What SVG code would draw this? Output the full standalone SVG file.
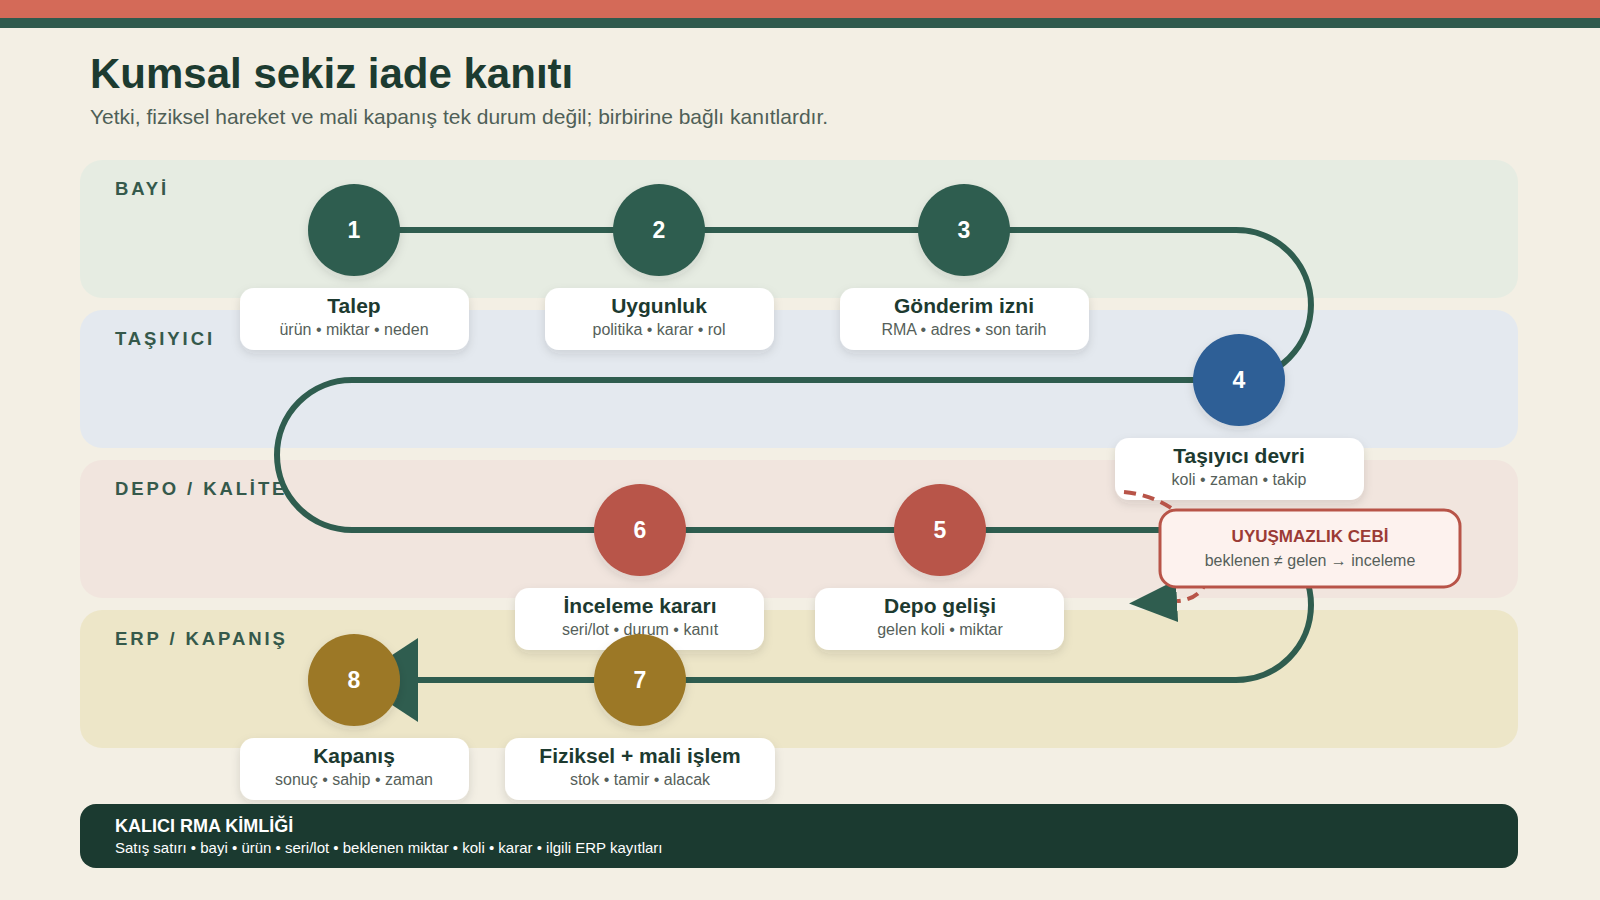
<svg xmlns="http://www.w3.org/2000/svg" width="1600" height="900" viewBox="0 0 1600 900">
<defs>
  <filter id="sh" x="-30%" y="-30%" width="160%" height="170%">
    <feDropShadow dx="0" dy="4" stdDeviation="5" flood-color="#3a3a2a" flood-opacity="0.13"/>
  </filter>
  <marker id="arrowBig" markerUnits="userSpaceOnUse" markerWidth="64" markerHeight="84" viewBox="0 0 10 10" preserveAspectRatio="none" refX="10" refY="5" orient="auto">
    <path d="M0,0 L10,5 L0,10 z" fill="#2f5d4f"/>
  </marker>
  <marker id="arrowSmall" markerUnits="userSpaceOnUse" markerWidth="48" markerHeight="42" viewBox="0 0 10 10" preserveAspectRatio="none" refX="0" refY="5" orient="auto">
    <path d="M0,0 L10,5 L0,10 z" fill="#2f5d4f"/>
  </marker>
  <style>
    .lane-label { font-family: "Liberation Sans", Arial, sans-serif; font-size: 18.5px; font-weight: bold; letter-spacing: 2.9px; fill: #35594b; }
    .num { font-family: "Liberation Sans", Arial, sans-serif; font-size: 23px; font-weight: bold; fill: #ffffff; text-anchor: middle; }
    .card { fill: #ffffff; filter: url(#sh); }
    .ct { font-family: "Liberation Sans", Arial, sans-serif; font-size: 21px; font-weight: bold; fill: #1d3a30; text-anchor: middle; }
    .cs { font-family: "Liberation Sans", Arial, sans-serif; font-size: 16px; fill: #565f5a; text-anchor: middle; }
    .flow { fill: none; stroke: #2f5d4f; stroke-width: 6; }
    .c-green { fill: #2f5d4f; filter: url(#sh); }
    .c-blue { fill: #2d5f96; filter: url(#sh); }
    .c-red { fill: #b85448; filter: url(#sh); }
    .c-ochre { fill: #9c7828; filter: url(#sh); }
  </style>
</defs>
<rect x="0" y="0" width="1600" height="900" fill="#f3efe4"/>
<rect x="0" y="0" width="1600" height="18" fill="#d46a58"/>
<rect x="0" y="18" width="1600" height="10" fill="#2f5a4d"/>

<text x="90" y="88" font-family="Liberation Sans, Arial, sans-serif" font-size="42" font-weight="bold" fill="#1c3b30">Kumsal sekiz iade kanıtı</text>
<text x="90" y="124" font-family="Liberation Sans, Arial, sans-serif" font-size="21" fill="#4f5f57">Yetki, fiziksel hareket ve mali kapanış tek durum değil; birbirine bağlı kanıtlardır.</text>

<g id="lanes">
  <rect x="80" y="160" width="1438" height="138" rx="22" fill="#e6ece2"/>
  <rect x="80" y="310" width="1438" height="138" rx="22" fill="#e4e9ef"/>
  <rect x="80" y="460" width="1438" height="138" rx="22" fill="#f1e5de"/>
  <rect x="80" y="610" width="1438" height="138" rx="22" fill="#ede6c8"/>
  <text class="lane-label" x="115" y="195">BAYİ</text>
  <text class="lane-label" x="115" y="345">TAŞIYICI</text>
  <text class="lane-label" x="115" y="495">DEPO / KALİTE</text>
  <text class="lane-label" x="115" y="645">ERP / KAPANIŞ</text>
</g>

<g id="connectors">
  <path class="flow" d="M354 230 H1236 A75 75 0 0 1 1236 380 H352 A75 75 0 0 0 352 530 H1236 A75 75 0 0 1 1236 680 H354" marker-end="url(#arrowBig)"/>
</g>

<g id="node1">
  <circle class="c-green" cx="354" cy="230" r="46"/>
  <text class="num" x="354" y="238">1</text>
  <rect class="card" x="240" y="288" width="229" height="62" rx="14"/>
  <text class="ct" x="354" y="313">Talep</text>
  <text class="cs" x="354" y="335">ürün • miktar • neden</text>
</g>
<g id="node2">
  <circle class="c-green" cx="659" cy="230" r="46"/>
  <text class="num" x="659" y="238">2</text>
  <rect class="card" x="545" y="288" width="229" height="62" rx="14"/>
  <text class="ct" x="659" y="313">Uygunluk</text>
  <text class="cs" x="659" y="335">politika • karar • rol</text>
</g>
<g id="node3">
  <circle class="c-green" cx="964" cy="230" r="46"/>
  <text class="num" x="964" y="238">3</text>
  <rect class="card" x="840" y="288" width="249" height="62" rx="14"/>
  <text class="ct" x="964" y="313">Gönderim izni</text>
  <text class="cs" x="964" y="335">RMA • adres • son tarih</text>
</g>
<g id="node4">
  <circle class="c-blue" cx="1239" cy="380" r="46"/>
  <text class="num" x="1239" y="388">4</text>
  <rect class="card" x="1115" y="438" width="249" height="62" rx="14"/>
  <text class="ct" x="1239" y="463">Taşıyıcı devri</text>
  <text class="cs" x="1239" y="485">koli • zaman • takip</text>
</g>
<g id="node5">
  <circle class="c-red" cx="940" cy="530" r="46"/>
  <text class="num" x="940" y="538">5</text>
  <rect class="card" x="815" y="588" width="249" height="62" rx="14"/>
  <text class="ct" x="940" y="613">Depo gelişi</text>
  <text class="cs" x="940" y="635">gelen koli • miktar</text>
</g>
<g id="node6">
  <circle class="c-red" cx="640" cy="530" r="46"/>
  <text class="num" x="640" y="538">6</text>
  <rect class="card" x="515" y="588" width="249" height="62" rx="14"/>
  <text class="ct" x="640" y="613">İnceleme kararı</text>
  <text class="cs" x="640" y="635">seri/lot • durum • kanıt</text>
</g>
<g id="node7">
  <circle class="c-ochre" cx="640" cy="680" r="46"/>
  <text class="num" x="640" y="688">7</text>
  <rect class="card" x="505" y="738" width="270" height="62" rx="14"/>
  <text class="ct" x="640" y="763">Fiziksel + mali işlem</text>
  <text class="cs" x="640" y="785">stok • tamir • alacak</text>
</g>
<g id="node8">
  <circle class="c-ochre" cx="354" cy="680" r="46"/>
  <text class="num" x="354" y="688">8</text>
  <rect class="card" x="240" y="738" width="229" height="62" rx="14"/>
  <text class="ct" x="354" y="763">Kapanış</text>
  <text class="cs" x="354" y="785">sonuç • sahip • zaman</text>
</g>

<g id="connectors-dispute">
  <path d="M1124 492 C1210 500 1235 598 1177 601" fill="none" stroke="#b85448" stroke-width="4" stroke-dasharray="12 7" marker-end="url(#arrowSmall)"/>
</g>

<g id="dispute">
  <rect x="1160" y="510" width="300" height="77" rx="16" fill="#fdf2ee" stroke="#b85448" stroke-width="3"/>
  <text x="1310" y="542" font-family="Liberation Sans, Arial, sans-serif" font-size="17" font-weight="bold" fill="#9b3b35" text-anchor="middle">UYUŞMAZLIK CEBİ</text>
  <text x="1310" y="566" font-family="Liberation Sans, Arial, sans-serif" font-size="16" fill="#565f5a" text-anchor="middle">beklenen ≠ gelen → inceleme</text>
</g>

<g id="rma-id">
  <rect x="80" y="804" width="1438" height="64" rx="16" fill="#1b3a30"/>
  <text x="115" y="832" font-family="Liberation Sans, Arial, sans-serif" font-size="18" font-weight="bold" fill="#ffffff">KALICI RMA KİMLİĞİ</text>
  <text x="115" y="853" font-family="Liberation Sans, Arial, sans-serif" font-size="15" fill="#ffffff">Satış satırı • bayi • ürün • seri/lot • beklenen miktar • koli • karar • ilgili ERP kayıtları</text>
</g>
</svg>
